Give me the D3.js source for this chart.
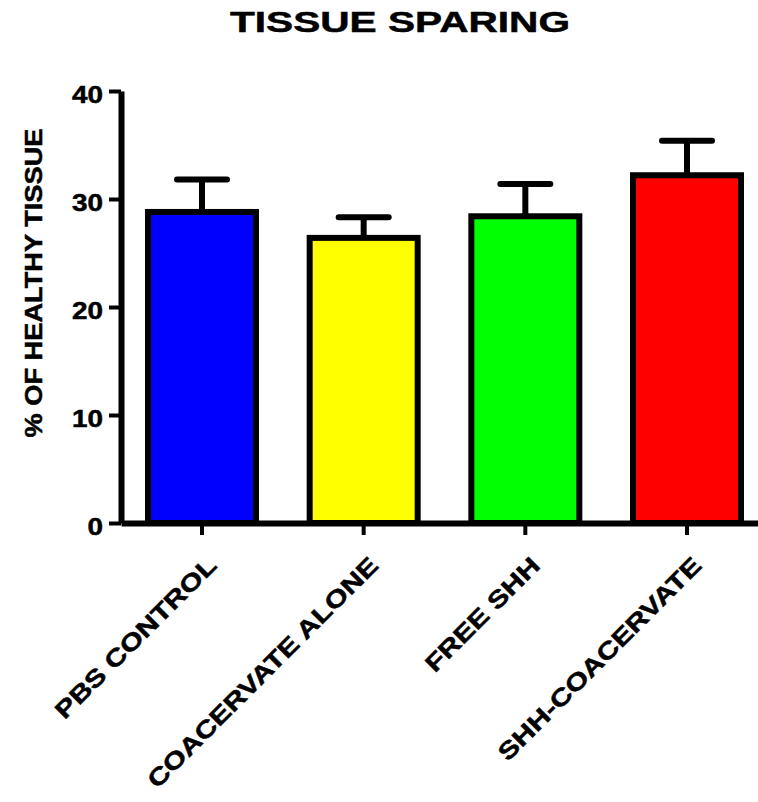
<!DOCTYPE html>
<html>
<head>
<meta charset="utf-8">
<script src="https://cdn.jsdelivr.net/npm/d3@7"></script>
<style>
  body { margin: 0; background: #fff; }
  svg text { font-family: "Liberation Sans", Arial, sans-serif; font-weight: bold; fill: #000;
             stroke: #000; stroke-width: 0.5px; }
</style>
</head>
<body>
<div id="chart"></div>
<script>
// data
var groups = ["PBS CONTROL", "COACERVATE ALONE", "FREE SHH", "SHH-COACERVATE"];
var means = [28.8, 26.4, 28.4, 32.2];
var errs = [3.0, 1.9, 3.0, 3.2];
var colors = ["#0000ff", "#ffff00", "#00ff00", "#ff0000"];
var yTicks = [0, 10, 20, 30, 40];

var width = 758, height = 802;
var plotLeft = 121, plotRight = 768, plotTop = 91, plotBottom = 523;

var svg = d3.select("#chart")
  .append("svg")
  .attr("width", width).attr("height", height);

// the original type is wider than Arial, stretch the text a bit
function stretch(sel, k) {
  sel.each(function() {
    var w = this.getComputedTextLength();
    d3.select(this).attr("textLength", w * k).attr("lengthAdjust", "spacingAndGlyphs");
  });
}

// scales
var x = d3.scaleBand()
  .domain(groups)
  .range([plotLeft, plotRight])
  .paddingInner(0.332)
  .paddingOuter(0.167);

var y = d3.scaleLinear()
  .domain([0, 40])
  .range([plotBottom, plotTop]);

// title
svg.append("text")
  .attr("x", 400).attr("y", 32)
  .attr("text-anchor", "middle")
  .style("font-size", "30px")
  .attr("textLength", 340).attr("lengthAdjust", "spacingAndGlyphs")
  .text("TISSUE SPARING");

// y label
svg.append("text")
  .attr("transform", "translate(42,283) rotate(-90)")
  .attr("text-anchor", "middle")
  .style("font-size", "24px")
  .attr("textLength", 309).attr("lengthAdjust", "spacingAndGlyphs")
  .text("% OF HEALTHY TISSUE");

// bars with upper error bars
var bars = svg.append("g");
groups.forEach(function(g, i) {
  var cx = x(g) + x.bandwidth() / 2;
  var yTop = y(means[i] + errs[i]);
  bars.append("line")
    .attr("x1", cx).attr("x2", cx)
    .attr("y1", y(means[i])).attr("y2", yTop)
    .attr("stroke", "#000").attr("stroke-width", 6);
  bars.append("line")
    .attr("x1", cx - 25).attr("x2", cx + 25)
    .attr("y1", yTop).attr("y2", yTop)
    .attr("stroke", "#000").attr("stroke-width", 6)
    .attr("stroke-linecap", "round");
  bars.append("rect")
    .attr("x", x(g)).attr("width", x.bandwidth())
    .attr("y", y(means[i])).attr("height", y(0) - y(means[i]))
    .attr("fill", colors[i])
    .attr("stroke", "#000").attr("stroke-width", 6);
});

// y axis
var yAxis = svg.append("g")
  .attr("transform", "translate(" + plotLeft + ",0)")
  .call(d3.axisLeft(y).tickValues(yTicks).tickSize(12).tickSizeOuter(0).tickPadding(6));
yAxis.select(".domain").attr("stroke-width", 6);
yAxis.selectAll(".tick line").attr("stroke-width", 4);
yAxis.selectAll(".tick text")
  .style("font-size", "24px")
  .attr("dy", "0.46em")
  .call(stretch, 1.16);

// x axis
var xAxis = svg.append("g")
  .attr("transform", "translate(0," + plotBottom + ")")
  .call(d3.axisBottom(x).tickSize(12).tickSizeOuter(0));
xAxis.select(".domain").attr("stroke-width", 6);
xAxis.selectAll(".tick line").attr("stroke-width", 4);
xAxis.selectAll(".tick text")
  .style("font-size", "24px")
  .attr("text-anchor", "end")
  .attr("y", 0).attr("dy", 0)
  .attr("transform", "translate(16,44) rotate(-45)")
  .call(stretch, 1.24);
</script>
</body>
</html>
